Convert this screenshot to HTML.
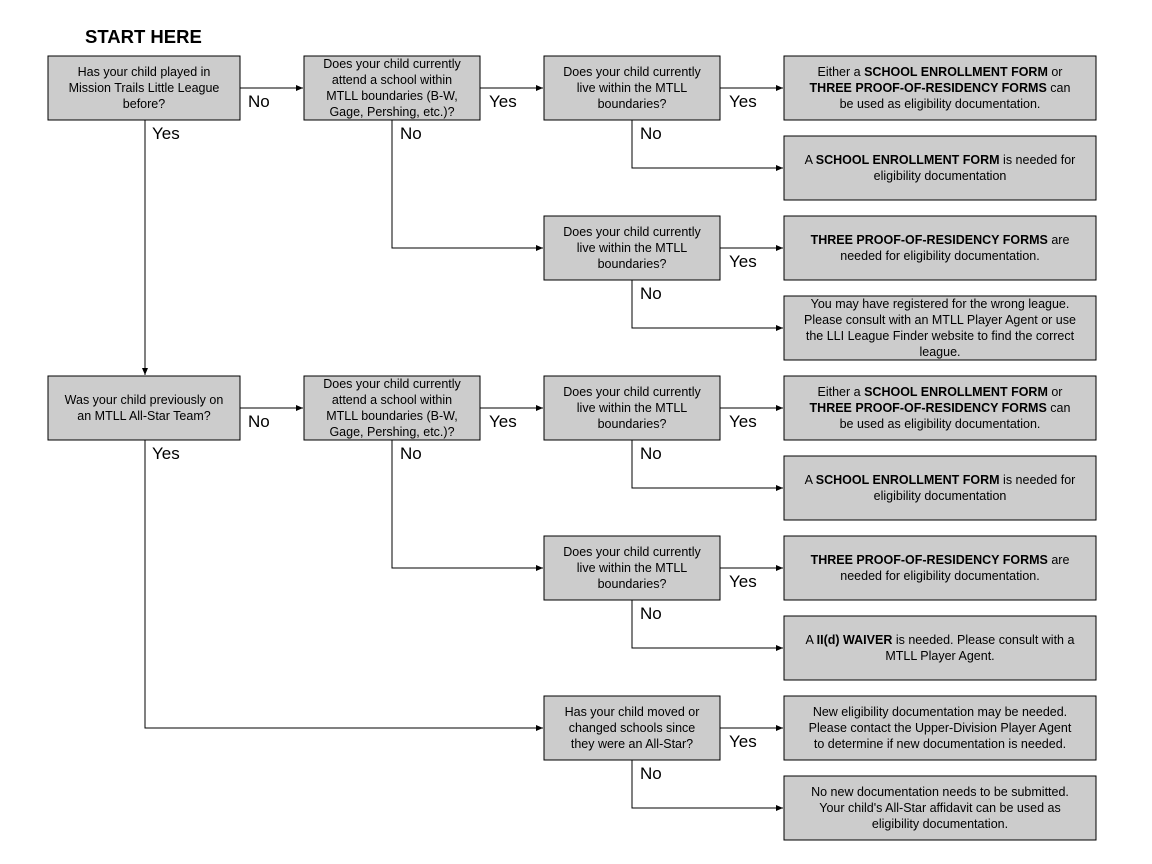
<!DOCTYPE html>
<html><head><meta charset="utf-8"><style>
html,body{margin:0;padding:0;background:#fff}
svg{display:block}
text{font-family:"Liberation Sans",Arial,sans-serif;fill:#000}
.t{font-size:12.5px;text-anchor:middle}
.l{font-size:17px}
rect{fill:#cccccc;stroke:#000;stroke-width:1}
line,polyline{stroke:#000;stroke-width:1;fill:none}
</style></head><body>
<svg width="1152" height="864" viewBox="0 0 1152 864">
<defs><marker id="a" markerWidth="8" markerHeight="6" refX="7" refY="3" orient="auto" markerUnits="userSpaceOnUse"><path d="M0,0 L7,3 L0,6 z" fill="#000"/></marker></defs>
<text x="85" y="43" style="font-size:18.5px;font-weight:bold">START HERE</text>

<line x1="240" y1="88" x2="303" y2="88" marker-end="url(#a)"/>
<line x1="480" y1="88" x2="543" y2="88" marker-end="url(#a)"/>
<line x1="720" y1="88" x2="783" y2="88" marker-end="url(#a)"/>
<polyline points="632,120 632,168 783,168" marker-end="url(#a)"/>
<polyline points="392,120 392,248 543,248" marker-end="url(#a)"/>
<line x1="720" y1="248" x2="783" y2="248" marker-end="url(#a)"/>
<polyline points="632,280 632,328 783,328" marker-end="url(#a)"/>
<line x1="145" y1="120" x2="145" y2="375" marker-end="url(#a)"/>
<line x1="240" y1="408" x2="303" y2="408" marker-end="url(#a)"/>
<line x1="480" y1="408" x2="543" y2="408" marker-end="url(#a)"/>
<line x1="720" y1="408" x2="783" y2="408" marker-end="url(#a)"/>
<polyline points="632,440 632,488 783,488" marker-end="url(#a)"/>
<polyline points="392,440 392,568 543,568" marker-end="url(#a)"/>
<line x1="720" y1="568" x2="783" y2="568" marker-end="url(#a)"/>
<polyline points="632,600 632,648 783,648" marker-end="url(#a)"/>
<polyline points="145,440 145,728 543,728" marker-end="url(#a)"/>
<line x1="720" y1="728" x2="783" y2="728" marker-end="url(#a)"/>
<polyline points="632,760 632,808 783,808" marker-end="url(#a)"/>

<text class="l" x="248" y="107">No</text>
<text class="l" x="489" y="107">Yes</text>
<text class="l" x="729" y="107">Yes</text>
<text class="l" x="152" y="139">Yes</text>
<text class="l" x="400" y="139">No</text>
<text class="l" x="640" y="139">No</text>
<text class="l" x="729" y="267">Yes</text>
<text class="l" x="640" y="299">No</text>
<text class="l" x="248" y="427">No</text>
<text class="l" x="489" y="427">Yes</text>
<text class="l" x="729" y="427">Yes</text>
<text class="l" x="152" y="459">Yes</text>
<text class="l" x="400" y="459">No</text>
<text class="l" x="640" y="459">No</text>
<text class="l" x="729" y="587">Yes</text>
<text class="l" x="640" y="619">No</text>
<text class="l" x="729" y="747">Yes</text>
<text class="l" x="640" y="779">No</text>

<rect x="48" y="56" width="192" height="64"/>
<text class="t"><tspan x="144" y="76">Has your child played in</tspan><tspan x="144" y="92">Mission Trails Little League</tspan><tspan x="144" y="108">before?</tspan></text>
<rect x="304" y="56" width="176" height="64"/>
<text class="t"><tspan x="392" y="68">Does your child currently</tspan><tspan x="392" y="84">attend a school within</tspan><tspan x="392" y="100">MTLL boundaries (B-W,</tspan><tspan x="392" y="116">Gage, Pershing, etc.)?</tspan></text>
<rect x="544" y="56" width="176" height="64"/>
<text class="t"><tspan x="632" y="76">Does your child currently</tspan><tspan x="632" y="92">live within the MTLL</tspan><tspan x="632" y="108">boundaries?</tspan></text>
<rect x="784" y="56" width="312" height="64"/>
<text class="t"><tspan x="940" y="76">Either a <tspan font-weight="bold">SCHOOL ENROLLMENT FORM</tspan> or</tspan><tspan x="940" y="92" font-weight="bold">THREE PROOF-OF-RESIDENCY FORMS<tspan font-weight="normal"> can</tspan></tspan><tspan x="940" y="108">be used as eligibility documentation.</tspan></text>
<rect x="784" y="136" width="312" height="64"/>
<text class="t"><tspan x="940" y="164">A <tspan font-weight="bold">SCHOOL ENROLLMENT FORM</tspan> is needed for</tspan><tspan x="940" y="180">eligibility documentation</tspan></text>
<rect x="544" y="216" width="176" height="64"/>
<text class="t"><tspan x="632" y="236">Does your child currently</tspan><tspan x="632" y="252">live within the MTLL</tspan><tspan x="632" y="268">boundaries?</tspan></text>
<rect x="784" y="216" width="312" height="64"/>
<text class="t"><tspan x="940" y="244"><tspan font-weight="bold">THREE PROOF-OF-RESIDENCY FORMS</tspan> are</tspan><tspan x="940" y="260">needed for eligibility documentation.</tspan></text>
<rect x="784" y="296" width="312" height="64"/>
<text class="t"><tspan x="940" y="308">You may have registered for the wrong league.</tspan><tspan x="940" y="324">Please consult with an MTLL Player Agent or use</tspan><tspan x="940" y="340">the LLI League Finder website to find the correct</tspan><tspan x="940" y="356">league.</tspan></text>

<rect x="48" y="376" width="192" height="64"/>
<text class="t"><tspan x="144" y="404">Was your child previously on</tspan><tspan x="144" y="420">an MTLL All-Star Team?</tspan></text>
<rect x="304" y="376" width="176" height="64"/>
<text class="t"><tspan x="392" y="388">Does your child currently</tspan><tspan x="392" y="404">attend a school within</tspan><tspan x="392" y="420">MTLL boundaries (B-W,</tspan><tspan x="392" y="436">Gage, Pershing, etc.)?</tspan></text>
<rect x="544" y="376" width="176" height="64"/>
<text class="t"><tspan x="632" y="396">Does your child currently</tspan><tspan x="632" y="412">live within the MTLL</tspan><tspan x="632" y="428">boundaries?</tspan></text>
<rect x="784" y="376" width="312" height="64"/>
<text class="t"><tspan x="940" y="396">Either a <tspan font-weight="bold">SCHOOL ENROLLMENT FORM</tspan> or</tspan><tspan x="940" y="412" font-weight="bold">THREE PROOF-OF-RESIDENCY FORMS<tspan font-weight="normal"> can</tspan></tspan><tspan x="940" y="428">be used as eligibility documentation.</tspan></text>
<rect x="784" y="456" width="312" height="64"/>
<text class="t"><tspan x="940" y="484">A <tspan font-weight="bold">SCHOOL ENROLLMENT FORM</tspan> is needed for</tspan><tspan x="940" y="500">eligibility documentation</tspan></text>
<rect x="544" y="536" width="176" height="64"/>
<text class="t"><tspan x="632" y="556">Does your child currently</tspan><tspan x="632" y="572">live within the MTLL</tspan><tspan x="632" y="588">boundaries?</tspan></text>
<rect x="784" y="536" width="312" height="64"/>
<text class="t"><tspan x="940" y="564"><tspan font-weight="bold">THREE PROOF-OF-RESIDENCY FORMS</tspan> are</tspan><tspan x="940" y="580">needed for eligibility documentation.</tspan></text>
<rect x="784" y="616" width="312" height="64"/>
<text class="t"><tspan x="940" y="644">A <tspan font-weight="bold">II(d) WAIVER</tspan> is needed. Please consult with a</tspan><tspan x="940" y="660">MTLL Player Agent.</tspan></text>
<rect x="544" y="696" width="176" height="64"/>
<text class="t"><tspan x="632" y="716">Has your child moved or</tspan><tspan x="632" y="732">changed schools since</tspan><tspan x="632" y="748">they were an All-Star?</tspan></text>
<rect x="784" y="696" width="312" height="64"/>
<text class="t"><tspan x="940" y="716">New eligibility documentation may be needed.</tspan><tspan x="940" y="732">Please contact the Upper-Division Player Agent</tspan><tspan x="940" y="748">to determine if new documentation is needed.</tspan></text>
<rect x="784" y="776" width="312" height="64"/>
<text class="t"><tspan x="940" y="796">No new documentation needs to be submitted.</tspan><tspan x="940" y="812">Your child's All-Star affidavit can be used as</tspan><tspan x="940" y="828">eligibility documentation.</tspan></text>
</svg>
</body></html>
